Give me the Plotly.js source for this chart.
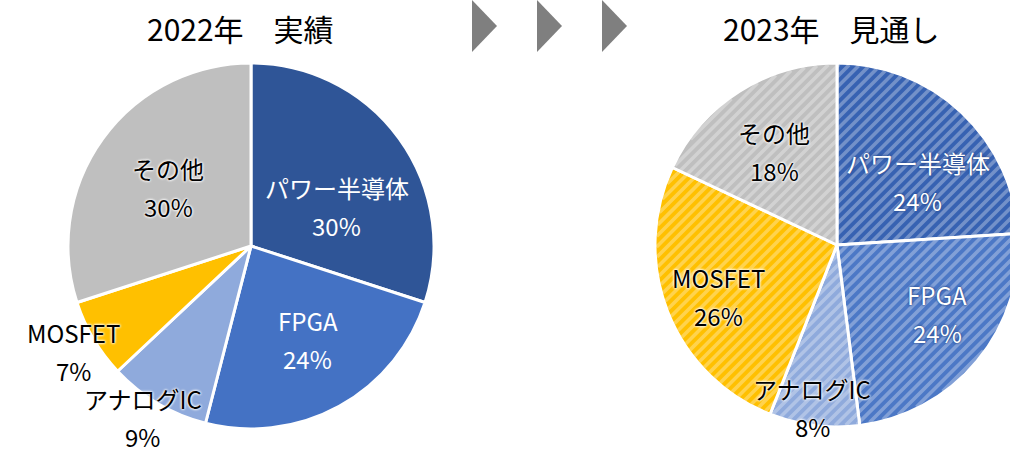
<!DOCTYPE html>
<html><head><meta charset="utf-8">
<script src="https://cdn.plot.ly/plotly-3.0.1.min.js"></script>
<style>
html,body{margin:0;padding:0;overflow:hidden;width:1010px;height:453px;background:#fff}
#chart{width:1040px;height:453px}
</style>
</head><body><div id="chart"></div>
<script>
// ---- data ----
const categories = ['パワー半導体', 'FPGA', 'アナログIC', 'MOSFET', 'その他'];
const values2022 = [30, 24, 9, 7, 30];
const values2023 = [24, 24, 8, 26, 18];
const titles = ['2022年　実績', '2023年　見通し'];

// ---- styling / layout config ----
const W = 1040, H = 453;
const FONT = '"Noto Sans CJK JP", "Noto Sans", sans-serif';
const colors2022 = ['#2F5597', '#4472C4', '#8FAADC', '#FFC000', '#BFBFBF'];
const colors2023 = ['#3762B2', '#4C78C6', '#8FAADC', '#FFC000', '#BFBFBF'];
const textColors = ['#ffffff', '#ffffff', '#000000', '#000000', '#000000'];
const pies = [
  {cx: 251, cy: 246, R: 183, values: values2022, colors: colors2022, hatched: false,
   labelR: [0.516, 0.60, 1.11, 1.13, 0.556], labelRot: [11.6, -2.4, 1.6, 0, -0.6], titleX: 240},
  {cx: 837, cy: 245, R: 182, values: values2023, colors: colors2023, hatched: true,
   labelR: [0.564, 0.665, 0.906, 0.713, 0.62], labelRot: [8.9, -5.4, 1.5, -2, -1.4], titleX: 831}
];

const data = [];
const annotations = [];
const shapes = [];
const X = v => v / W, Y = v => 1 - v / H;

pies.forEach((p, k) => {
  data.push({
    type: 'pie', labels: categories, values: p.values, sort: false,
    direction: 'clockwise', rotation: 0, textinfo: 'none', hoverinfo: 'label+percent',
    showlegend: false,
    domain: {x: [X(p.cx - p.R), X(p.cx + p.R)], y: [(H - p.cy - p.R) / H, (H - p.cy + p.R) / H]},
    marker: {colors: p.colors, line: {color: '#ffffff', width: 3}}
  });

  // diagonal hatch overlay for the forecast pie (decoration clipped to the circle)
  if (p.hatched) {
    const step = 10.5, Rh = p.R - 1.5;
    for (let d = -Math.floor(Rh * Math.SQRT2 / step) * step; d * d / 2 < Rh * Rh; d += step) {
      const fx = p.cx + d / 2, fy = p.cy + d / 2;
      const h = Math.sqrt(Rh * Rh - d * d / 2) / Math.SQRT2;
      shapes.push({type: 'line', xref: 'paper', yref: 'paper', layer: 'above',
        x0: X(fx - h), y0: Y(fy + h), x1: X(fx + h), y1: Y(fy - h),
        line: {color: 'rgba(255,255,255,0.3)', width: 3.6}});
    }
  }

  // labels placed along each slice's mid angle (from the data)
  const total = p.values.reduce((a, b) => a + b, 0);
  let cum = 0;
  p.values.forEach((v, i) => {
    const mid = (cum + v / 2) / total * 360 + p.labelRot[i];
    cum += v;
    const rad = mid * Math.PI / 180;
    const r = p.R * p.labelR[i];
    const px = p.cx + r * Math.sin(rad);
    const py = p.cy - r * Math.cos(rad);
    const dark = textColors[i] === '#ffffff';
    const shadow = dark ? (p.hatched ? '0 0 3px #2A4C90, 0 0 2px #2A4C90' : 'none')
                        : '0 0 3px #ffffff, 0 0 3px #ffffff, 0 0 2px #ffffff';
    const pct = Math.round(v / total * 100) + '%';
    [[categories[i], 19], [pct, -19]].forEach(([t, ys]) => {
      annotations.push({
        text: t, xref: 'paper', yref: 'paper', x: X(px), y: Y(py),
        xanchor: 'center', yanchor: 'middle', yshift: ys, showarrow: false,
        font: {family: FONT, size: 24, color: textColors[i], shadow: shadow}
      });
    });
  });

  annotations.push({
    text: titles[k], xref: 'paper', yref: 'paper', x: X(p.titleX), y: Y(28),
    xanchor: 'center', yanchor: 'middle', showarrow: false,
    font: {family: FONT, size: 30, color: '#000000'}
  });
});

// chevron arrows between the two pies
const arrowX = [472, 537, 602];
arrowX.forEach(x0 => {
  shapes.push({type: 'path', xref: 'paper', yref: 'paper', line: {width: 0},
    fillcolor: '#7F7F7F',
    path: `M ${X(x0)},${Y(0)} L ${X(x0 + 25)},${Y(26)} L ${X(x0)},${Y(52)} Z`});
});

Plotly.newPlot('chart', data, {
  width: W, height: H, margin: {l: 0, r: 0, t: 0, b: 0},
  paper_bgcolor: '#ffffff', annotations: annotations, shapes: shapes,
  font: {family: FONT}
}, {displayModeBar: false, staticPlot: true});
</script>
</body></html>
